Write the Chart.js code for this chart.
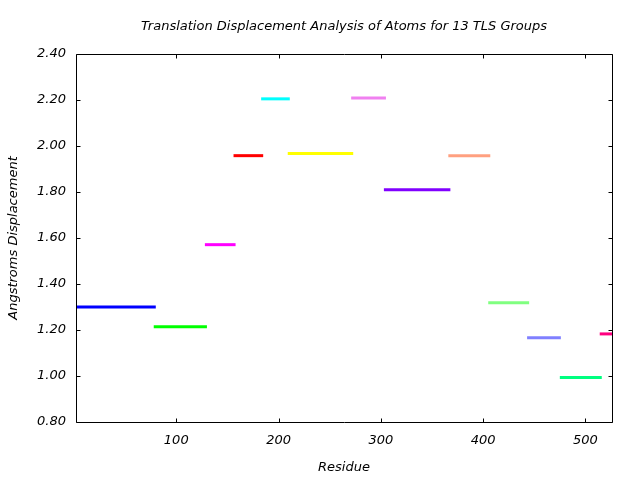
<!DOCTYPE html>
<html>
<head>
<meta charset="utf-8">
<script src="https://cdn.jsdelivr.net/npm/chart.js@4/dist/chart.umd.min.js"></script>
<style>
  html, body { margin: 0; padding: 0; background: #fff; }
  #wrap { width: 640px; height: 480px; }
</style>
</head>
<body>
<div id="wrap"><canvas id="c" width="640" height="480"></canvas></div>
<script>
// TLS group residue ranges and translation displacement
const groupStart = [2, 78, 128, 156, 183, 209, 271, 303, 366, 405, 443, 475, 514];
const groupEnd   = [80, 130, 158, 185, 211, 273, 305, 368, 407, 445, 476, 516, 526];
const displacement = [1.300, 1.214, 1.571, 1.958, 2.205, 1.967, 2.209, 1.810, 1.958, 1.318, 1.166, 0.994, 1.183];
const xTicks = [100, 200, 300, 400, 500];
const yTicks = [0.8, 1.0, 1.2, 1.4, 1.6, 1.8, 2.0, 2.2, 2.4];
const groupColors = ['#0000ff', '#00ff00', '#ff00ff', '#ff0000', '#00ffff', '#ffff00', '#f080f0',
                     '#8000ff', '#ffa080', '#80ff80', '#8080ff', '#00ff80', '#ff0080'];
const chartTitle = 'Translation Displacement Analysis of Atoms for 13 TLS Groups';

const datasets = groupStart.map((s, i) => ({
  label: 'Group ' + (i + 1),
  data: [{ x: s, y: displacement[i] }, { x: groupEnd[i], y: displacement[i] }],
  borderColor: groupColors[i],
  backgroundColor: groupColors[i],
  borderWidth: 3,
  pointRadius: 0,
  showLine: true,
  fill: false
}));

const fontBase = { family: "'DejaVu Sans', sans-serif", size: 13, style: 'italic', weight: 'normal' };

const framePlugin = {
  id: 'frame',
  afterDraw(chart) {
    const { ctx, chartArea: a, scales } = chart;
    const L = Math.round(a.left) + 0.5, R = Math.round(a.right) + 0.5;
    const T = Math.round(a.top) + 0.5, B = Math.round(a.bottom) + 0.5;
    const tl = 4;
    ctx.save();
    ctx.strokeStyle = '#000';
    ctx.lineWidth = 1;
    ctx.beginPath();
    ctx.rect(L, T, R - L, B - T);
    scales.x.ticks.forEach(t => {
      const px = Math.round(scales.x.getPixelForValue(t.value)) + 0.5;
      ctx.moveTo(px, B); ctx.lineTo(px, B - tl);
      ctx.moveTo(px, T); ctx.lineTo(px, T + tl);
    });
    scales.y.ticks.forEach(t => {
      const py = Math.round(scales.y.getPixelForValue(t.value)) + 0.5;
      ctx.moveTo(L, py); ctx.lineTo(L + tl, py);
      ctx.moveTo(R, py); ctx.lineTo(R - tl, py);
    });
    ctx.stroke();
    // title centred over the plot area
    ctx.fillStyle = '#000';
    ctx.font = "italic normal 13px 'DejaVu Sans', sans-serif";
    ctx.textAlign = 'center';
    ctx.textBaseline = 'middle';
    ctx.fillText(chartTitle, (a.left + a.right) / 2, 27);
    ctx.restore();
  }
};

new Chart(document.getElementById('c'), {
  type: 'scatter',
  data: { datasets },
  options: {
    responsive: false,
    animation: false,
    layout: { padding: { left: 0, right: 28, top: 54, bottom: 0 } },
    plugins: {
      legend: { display: false },
      tooltip: { enabled: false },
      title: { display: false }
    },
    scales: {
      x: {
        type: 'linear',
        min: 2,
        max: 526,
        afterBuildTicks: s => { s.ticks = xTicks.map(v => ({ value: v })); },
        afterFit: s => { s.height = 58; },
        grid: { display: false, drawTicks: false },
        border: { display: false },
        ticks: { color: '#000', font: fontBase, padding: 11, maxRotation: 0, autoSkip: false },
        title: { display: true, text: 'Residue', color: '#000', font: fontBase, padding: { top: 0, bottom: 5 } }
      },
      y: {
        type: 'linear',
        min: 0.8,
        max: 2.4,
        afterBuildTicks: s => { s.ticks = yTicks.map(v => ({ value: v })); },
        afterFit: s => { s.width = 76; },
        grid: { display: false, drawTicks: false },
        border: { display: false },
        ticks: { color: '#000', font: fontBase, padding: 10, callback: v => Number(v).toFixed(2), autoSkip: false },
        title: { display: true, text: 'Angstroms Displacement', color: '#000', font: fontBase, padding: { top: 6, bottom: 0 } }
      }
    }
  },
  plugins: [framePlugin]
});
</script>
</body>
</html>
